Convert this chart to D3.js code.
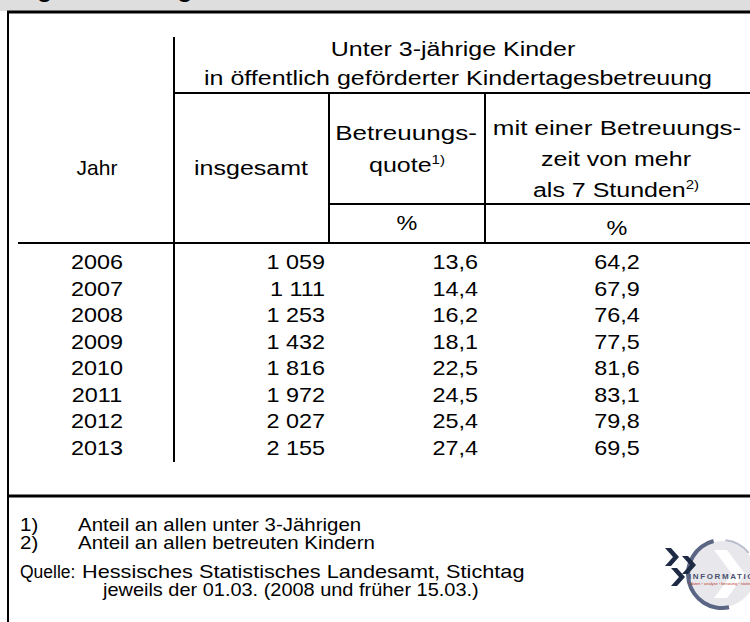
<!DOCTYPE html>
<html>
<head>
<meta charset="utf-8">
<script src="https://cdn.jsdelivr.net/npm/d3@7"></script>
<style>
  body { margin: 0; background: #fff; }
  svg { display: block; font-family: Arial, "Liberation Sans", sans-serif; }
</style>
</head>
<body>
<div id="chart"></div>
<script>
var width = 750,
    height = 622;

// data
var years = [2006, 2007, 2008, 2009, 2010, 2011, 2012, 2013];
var insgesamt = [1059, 1111, 1253, 1432, 1816, 1972, 2027, 2155];
var quote = [13.6, 14.4, 16.2, 18.1, 22.5, 24.5, 25.4, 27.4];
var mehrAls7 = [64.2, 67.9, 76.4, 77.5, 81.6, 83.1, 79.8, 69.5];

var footnotes = [
  ["1)", "Anteil an allen unter 3-Jährigen"],
  ["2)", "Anteil an allen betreuten Kindern"]
];
var quelle = ["Hessisches Statistisches Landesamt, Stichtag",
              "jeweils der 01.03. (2008 und früher 15.03.)"];

var de = d3.formatLocale({decimal: ",", thousands: "\u2009", grouping: [3], currency: ["", " €"]});
var fmtInt = function(v) { return de.format(",d")(v).replace("\u2009", " "); };
var fmtPct = de.format(".1f");

var SX = 1.17,   // text in the original is a bit wide
    SXH = 1.25;  // header text even more

var svg = d3.select("#chart")
  .append("svg")
  .attr("width", width)
  .attr("height", height);

svg.append("rect").attr("width", width).attr("height", height).attr("fill", "#fff");

function txt(x, y, s, anchor, size, weight, sx) {
  return svg.append("text")
    .attr("transform", "translate(" + x + "," + y + ") scale(" + (sx || SX) + ",1)")
    .attr("text-anchor", anchor || "start")
    .style("font-size", (size || 20) + "px")
    .style("font-weight", weight || "normal")
    .attr("fill", "#000")
    .text(s);
}
function line(x1, y1, x2, y2, w) {
  svg.append("line")
    .attr("x1", x1).attr("y1", y1).attr("x2", x2).attr("y2", y2)
    .attr("stroke", "#000").attr("stroke-width", w || 2);
}

// header band (title cut off at the top)
svg.append("rect").attr("x", 0).attr("y", 0).attr("width", width).attr("height", 11).attr("fill", "#dedede");
txt(12, -2, "Tagesbetreuung", "start", 20, "bold");
line(7, 12, width, 12, 3);
line(8, 11, 8, height, 2);

// grid lines of the table
line(174, 37, 174, 462, 2);
line(174, 93, width, 93, 2);
line(329, 93, 329, 243, 2);
line(485, 93, 485, 243, 2);
line(329, 204, width, 204, 2);
line(18, 243, width, 243, 2);
line(7, 496, width, 496, 3);

// column heads
txt(453, 56, "Unter 3-jährige Kinder", "middle", 20, null, SXH);
txt(458, 85, "in öffentlich geförderter Kindertagesbetreuung", "middle", 20, null, SXH);
txt(97, 175, "Jahr", "middle", 20, null, 1.05);
txt(251, 175, "insgesamt", "middle", 20, null, SXH);
txt(406, 140, "Betreuungs-", "middle", 20, null, 1.3);
var q = txt(407, 172, "quote", "middle", 20, null, SXH);
q.append("tspan").attr("dy", -8).style("font-size", "12px").text("1)");
txt(617, 135, "mit einer Betreuungs-", "middle", 20, null, 1.3);
txt(616, 166, "zeit von mehr", "middle", 20, null, SXH);
var st = txt(616, 197, "als 7 Stunden", "middle", 20, null, SXH);
st.append("tspan").attr("dy", -8).style("font-size", "12px").text("2)");
txt(407, 230, "%", "middle");
txt(617, 235, "%", "middle");

// rows
var y = d3.scaleBand().domain(years).range([249, 461]);
var cols = [
  {vals: years, x: 97, anchor: "middle", f: String},
  {vals: insgesamt, x: 325, anchor: "end", f: fmtInt},
  {vals: quote, x: 478, anchor: "end", f: fmtPct},
  {vals: mehrAls7, x: 617, anchor: "middle", f: fmtPct}
];
cols.forEach(function(c) {
  c.vals.forEach(function(v, i) {
    txt(c.x, y(years[i]) + y.bandwidth() / 2 + 7, c.f(v), c.anchor);
  });
});

// footnotes
footnotes.forEach(function(f, i) {
  txt(20, 531 + i * 18, f[0], "start", 17.5);
  txt(78, 531 + i * 18, f[1], "start", 17.5);
});
txt(20, 578, "Quelle:", "start", 17.5, null, 1.0);
txt(82, 578, quelle[0], "start", 17.5, null, 1.24);
txt(103, 596, quelle[1], "start", 17.5, null, 1.14);

// logo
var logo = svg.append("g").attr("transform", "translate(722,574)");
logo.append("circle").attr("r", 33).attr("fill", "#e7e7ec");
logo.append("path").attr("d", "M-8,-24 L10,0 L-8,24 L5,24 L23,0 L5,-24 Z").attr("fill", "#fff");
logo.append("path")
  .attr("d", d3.arc()({innerRadius: 32, outerRadius: 36, startAngle: -0.25, endAngle: -3.35}))
  .attr("fill", "#5b6684");
logo.append("path")
  .attr("d", d3.arc()({innerRadius: 33, outerRadius: 35, startAngle: 0.1, endAngle: 0.9}))
  .attr("fill", "#b8bccb");
[[-57, -26], [-40, -18], [-51, -6]].forEach(function(p) {
  logo.append("path")
    .attr("d", "M" + p[0] + "," + p[1] + " l6,0 l8,9 l-8,9 l-6,0 l8,-9 z")
    .attr("fill", "#1f2b45");
});
logo.append("text").attr("x", -33).attr("y", 5)
  .style("font-size", "8px").style("font-weight", "bold").style("letter-spacing", "1.6px")
  .attr("fill", "#4a5270").text("INFORMATION");
logo.append("text").attr("x", -34).attr("y", 11)
  .style("font-size", "4px").attr("fill", "#c0392b")
  .text("› daten › analyse › beratung › statistik");
</script>
</body>
</html>
